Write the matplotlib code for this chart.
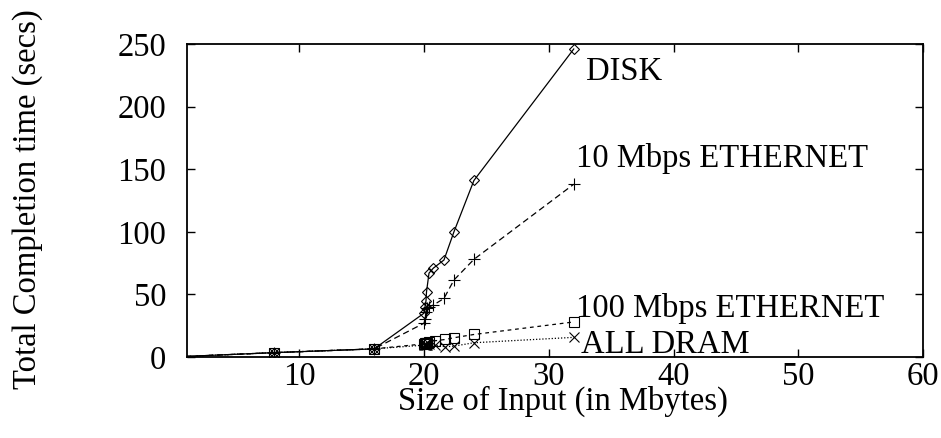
import matplotlib
matplotlib.use('Agg')
import matplotlib.pyplot as plt

# data
x_disk = [1, 8, 16, 20.0, 20.08, 20.16, 20.2, 20.4, 20.75, 21.6, 22.4, 24, 32]
y_disk = [0.5, 3.5, 6.5, 35, 40, 45, 52, 67, 71, 77.5, 100, 141, 246]

x_eth10 = [1, 8, 16, 20.0, 20.08, 20.16, 20.2, 20.4, 20.75, 21.6, 22.4, 24, 32]
y_eth10 = [0.5, 3.5, 6.5, 27, 30, 36, 39, 40, 41.5, 46.8, 61.5, 78, 138]

x_eth100 = [1, 8, 16, 20.0, 20.08, 20.16, 20.2, 20.4, 20.9, 21.7, 22.4, 24, 32]
y_eth100 = [0.5, 3.5, 6.5, 10.5, 11, 11, 11.5, 12, 13, 14, 15.4, 18, 28]

x_dram = [1, 8, 16, 20.0, 20.08, 20.16, 20.2, 20.4, 20.9, 21.7, 22.4, 24, 32]
y_dram = [0.5, 3.5, 6.5, 9.5, 9.5, 9.8, 9.8, 10, 9.5, 8.2, 8.7, 11.4, 15.7]

series_labels = ['DISK', '10 Mbps ETHERNET', '100 Mbps ETHERNET', 'ALL DRAM']
label_pos = [(33.0, 221), (32.2, 152), (32.2, 32), (32.6, 3.2)]

FS = 23.5
plt.rcParams['font.family'] = 'Liberation Serif'
plt.rcParams['font.size'] = FS

fig = plt.figure(figsize=(9.41, 4.38), dpi=100)
ax = fig.add_axes([0.1987, 0.1849, 0.7822, 0.7146])

mk = dict(markerfacecolor='none', markeredgecolor='black', mew=0.8, color='black', lw=0.9)
ax.plot(x_disk, y_disk, linestyle='-', marker='D', markersize=5, markevery=range(1, len(x_disk)), **mk)
ax.plot(x_eth10, y_eth10, linestyle=(0, (5, 3)), marker='+', markersize=9, markevery=range(1, len(x_eth10)), **mk)
ax.plot(x_eth100, y_eth100, linestyle=(0, (3, 3)), marker='s', markersize=7, markevery=range(1, len(x_eth100)), **mk)
ax.plot(x_dram, y_dram, linestyle=(0, (1, 1.5)), marker='x', markersize=7, markevery=range(1, len(x_dram)), **mk)

for lab, (lx, ly) in zip(series_labels, label_pos):
  ax.text(lx, ly, lab, ha='left', va='baseline', fontsize=FS)

ax.set_xlim(1, 60)
ax.set_ylim(0, 250)
ax.set_xticks([10, 20, 30, 40, 50, 60])
ax.set_yticks([0, 50, 100, 150, 200, 250])
ax.tick_params(axis='both', direction='in', length=6, width=1, top=True, right=True, labelsize=FS)
ax.tick_params(axis='x', pad=3)
ax.tick_params(axis='y', pad=15)
for s in ax.spines.values():
  s.set_linewidth(1.3)

fig.text(0.598, 0.064, 'Size of Input (in Mbytes)', ha='center', va='baseline', fontsize=FS)
fig.text(0.029, 0.545, 'Total Completion time (secs)', ha='center', va='center', rotation=90, fontsize=FS)

plt.savefig('out.png', dpi=100)
